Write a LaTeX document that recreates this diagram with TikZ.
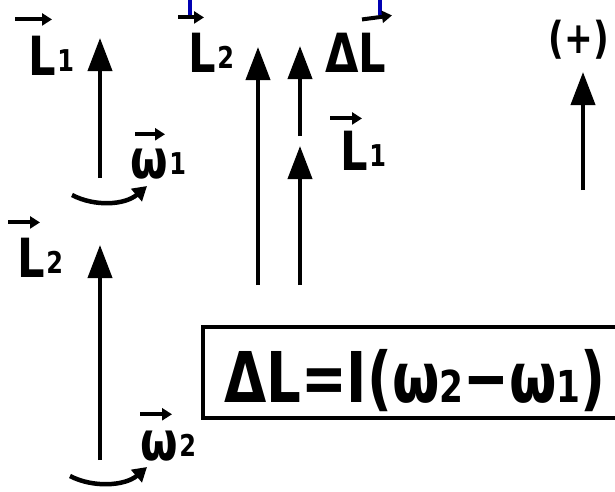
\documentclass[tikz,border=0pt]{standalone}
\usepackage{fontspec}
\setmainfont{DejaVu Sans}
\usetikzlibrary{arrows.meta}
\tikzset{
  vec/.style={line width=4pt,-{Triangle[length=33pt,width=24pt]}},
  spin/.style={line width=4.5pt,-{Triangle[length=14pt,width=16pt]}},
  varr/.style={line width=4pt,-{Triangle[length=10pt,width=12pt]}},
  lab/.style={font=\fontsize{54}{58}\selectfont\bfseries, inner sep=0pt, anchor=base west, xscale=0.8, transform shape},
  eqn/.style={font=\fontsize{70}{74}\selectfont\bfseries, inner sep=0pt, anchor=base west, xscale=0.78, transform shape},
}
\newcommand{\sub}[1]{\kern2pt\raisebox{4pt}{\fontsize{30}{30}\selectfont #1}}
\newcommand{\low}[1]{{\fontsize{44}{44}\selectfont #1}}

\begin{document}
\begin{tikzpicture}[x=1pt,y=-1pt]
\useasboundingbox (0,0) rectangle (615,491);
\clip (0,0) rectangle (615,491);
\draw[blue!70!black, line width=4pt] (190,0) -- (190,15);
\draw[blue!70!black, line width=4pt] (380,0) -- (380,15);

\coordinate (l1base) at (100,178);  \coordinate (l1tip) at (100,38);
\coordinate (l2base) at (258,285);  \coordinate (l2tip) at (258,47);
\coordinate (l1sbase) at (300,285); \coordinate (l1stip) at (300,146);
\coordinate (dlbase) at (300,136);  \coordinate (dltip) at (300,46);
\coordinate (pbase) at (583,190);   \coordinate (ptip) at (583,72);
\coordinate (l2lbase) at (100,460); \coordinate (l2ltip) at (100,245);
\coordinate (w1a) at (72,195);  \coordinate (w1b) at (147,186);
\coordinate (w2a) at (70,476);  \coordinate (w2b) at (147,467);

\draw[vec] (l1base) -- (l1tip);
\draw[vec] (l2base) -- (l2tip);
\draw[vec] (l1sbase) -- (l1stip);
\draw[vec] (dlbase) -- (dltip);
\draw[vec] (pbase) -- (ptip);
\draw[vec] (l2lbase) -- (l2ltip);
\draw[spin] (w1a) .. controls (95,207) and (125,205) .. (w1b);
\draw[spin] (w2a) .. controls (93,488) and (125,486) .. (w2b);

\node[lab] (L1) at (28,75) {L\sub{1}};
\node[lab] (L2) at (188,72) {L\sub{2}};
\node[lab] (dL) at (325,72) {ΔL};
\node[lab] (L1s) at (340,170) {L\sub{1}};
\node[lab] (w1) at (130,178) {ω\sub{1}};
\node[lab] (L2l) at (17,277) {L\sub{2}};
\node[lab] (w2) at (140,460) {ω\sub{2}};
\node[font=\fontsize{44}{48}\selectfont\bfseries, inner sep=0pt, xscale=0.78, transform shape] (plus) at (579,40) {(+)};

\draw[varr] ([xshift=-13pt,yshift=16pt]L1.north west) -- ++(37,0);
\draw[varr] ([xshift=-10pt,yshift=15pt]L2.north west) -- ++(26,0);
\draw[varr] ([xshift=37pt,yshift=13pt]dL.north west) -- ++(30,-4);
\draw[varr] ([xshift=-10pt,yshift=12pt]L1s.north west) -- ++(32,0);
\draw[varr] ([xshift=5pt,yshift=14pt]w1.north west) -- ++(30,0);
\draw[varr] ([xshift=-9pt,yshift=15pt]L2l.north west) -- ++(32,0);
\draw[varr] ([xshift=0pt,yshift=16pt]w2.north west) -- ++(32,0);

\draw[line width=3.5pt] (203,327) rectangle (660,418);
\node[eqn] (eq) at (224,402) {ΔL=I(ω\low{2}−ω\low{1})};
\end{tikzpicture}
\end{document}
